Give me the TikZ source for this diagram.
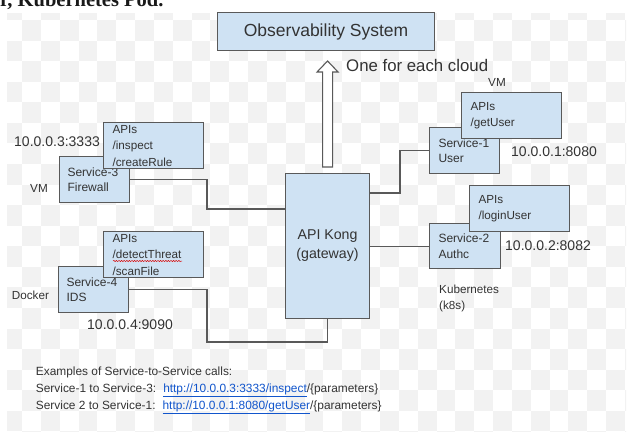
\documentclass[tikz,border=0pt]{standalone}
\usepackage{fontspec}
\setmainfont{Liberation Sans}
\newfontfamily\serifx{Liberation Serif}
\usetikzlibrary{calc,decorations.pathmorphing}
\definecolor{boxfill}{HTML}{CFE2F3}
\definecolor{edgec}{HTML}{595959}
\definecolor{ink}{HTML}{333333}
\definecolor{chkc}{HTML}{F2F2F2}
\definecolor{linkc}{HTML}{1155CC}
\newcommand{\fsz}[2]{\fontsize{#1}{#2}\selectfont}
\newcommand{\weblink}[1]{\textcolor{linkc}{\underline{#1}}}
\begin{document}
\begin{tikzpicture}[x=1pt,y=-1pt,
  box/.style={draw=edgec, line width=1.1pt, fill=boxfill, inner sep=0pt, text=ink},
  svcbox/.style={box, anchor=north west, inner xsep=8pt, inner ysep=0pt, align=left,
    font=\fsz{12}{15.5}, minimum height=46pt, text width=54pt},
  apibox/.style={box, anchor=north west, inner xsep=9pt, inner ysep=0pt, align=left,
    font=\fsz{11.7}{16.5}, minimum height=46pt, text width=82pt},
  lbl/.style={inner sep=0pt, text=ink, anchor=west},
  conn/.style={draw=edgec, line width=1.1pt}]
\path[use as bounding box] (0,0) rectangle (644,431);
\clip (0,0) rectangle (644,431);
\fill[white] (0,0) rectangle (644,431);
% checkered background
\begin{scope}
\clip (7,13) rectangle (626,431);
\foreach \k in {0,...,34}{
  \foreach \r in {-1,...,20}{
    \pgfmathtruncatemacro\chkpar{mod(\k+\r+2,2)}
    \ifnum\chkpar=1
      \fill[chkc] (3.2+18.84*\k,20+20.57*\r) rectangle ++(18.84,20.57);
    \fi
  }
}
\end{scope}
% cut-off heading text (cropped at the top edge, as in the reference)
\node[anchor=base west, inner sep=0pt, font=\serifx\bfseries\fsz{20.5}{22}, text=black!90] (toptext) at (0,6.5) {r, Kubernetes Pod.};

% observability
\node[box, anchor=north west, minimum width=217pt, minimum height=38pt, font=\fsz{17.5}{20}] (obs) at (217,12) {Observability System};

% gateway
\node[box, anchor=north west, minimum width=84pt, minimum height=145pt, align=center, font=\fsz{14.2}{19}] (gw) at (285,173) {API Kong\\(gateway)};

% hollow arrow
\draw[edgec, line width=1.1pt, fill=white, line join=miter]
  ($(gw.north)+(-5,-6)$) -- ++(0,-95) -- ++(-5.5,0) -- ++(10.5,-11) -- ++(10.5,11) -- ++(-5.5,0) -- ++(0,95) -- cycle;
\node[lbl, font=\fsz{16.8}{19}] (each) at (346,65) {One for each cloud};

% Service-3
\node[svcbox] (s3) at (59,156) {Service-3\\Firewall};
\node[apibox] (a3) at (103,122) {APIs\\/inspect\\/createRule};
\node[lbl, font=\fsz{14}{16}] (ip3) at (14,142) {10.0.0.3:3333};
\node[lbl, font=\fsz{11.7}{14}] (vm3) at (30,188) {VM};

% Service-4
\node[svcbox] (s4) at (58,266) {Service-4\\IDS};
\node[apibox] (a4) at (103,231) {APIs\\/detectThreat\\/scanFile};
\draw[red!85!black, line width=0.5pt, decorate, decoration={snake, amplitude=0.6pt, segment length=2.6pt}]
  ($(a4.north west)+(10,30)$) -- ($(a4.north west)+(79,30)$);
\node[lbl, font=\fsz{11.7}{14}] (dock) at (11.7,295) {Docker};
\node[lbl, font=\fsz{14}{16}] (ip4) at (87,325) {10.0.0.4:9090};

% Service-1
\node[svcbox, inner xsep=9pt, text width=52pt] (s1) at (429,127) {Service-1\\User};
\node[apibox] (a1) at (461,92) {APIs\\/getUser};
\node[lbl, font=\fsz{11.7}{14}] (vm1) at (488,82.5) {VM};
\node[lbl, font=\fsz{14}{16}] (ip1) at (511,151.5) {10.0.0.1:8080};

% Service-2
\node[svcbox, inner xsep=9pt, text width=53pt, minimum height=45pt] (s2) at (429,223) {Service-2\\Authc};
\node[apibox] (a2) at (469,185) {APIs\\/loginUser};
\node[lbl, font=\fsz{14}{16}] (ip2) at (505,246) {10.0.0.2:8082};
\node[lbl, align=left, font=\fsz{11.7}{16}] (k8s) at (439,298) {Kubernetes\\(k8s)};

% connectors
\coordinate (j3) at (207,209);
\coordinate (j1) at (400,193);
\coordinate (j4) at (207,342);
\draw[conn] (s3.east) -| (j3) -- (j3 -| gw.west);
\draw[conn] (j1 -| gw.east) -- (j1) |- (s1.west);
\draw[conn] (gw.east |- s2.west) -- (s2.west);
\draw[conn] (s4.east) -| (j4) -| (gw.south);

% examples
\node[lbl, anchor=base west, font=\fsz{11.9}{14}] (ex0) at (35.7,375) {Examples of Service-to-Service calls:};
\node[lbl, anchor=base west, font=\fsz{11.9}{14}] (ex1) at (35.7,392) {Service-1 to Service-3:\hspace{7pt}\weblink{http://10.0.0.3:3333/inspect}/\{parameters\}};
\node[lbl, anchor=base west, font=\fsz{11.9}{14}] (ex2) at (35.7,409) {Service 2 to Service-1:\hspace{7pt}\weblink{http://10.0.0.1:8080/getUser}/\{parameters\}};
\end{tikzpicture}
\end{document}
